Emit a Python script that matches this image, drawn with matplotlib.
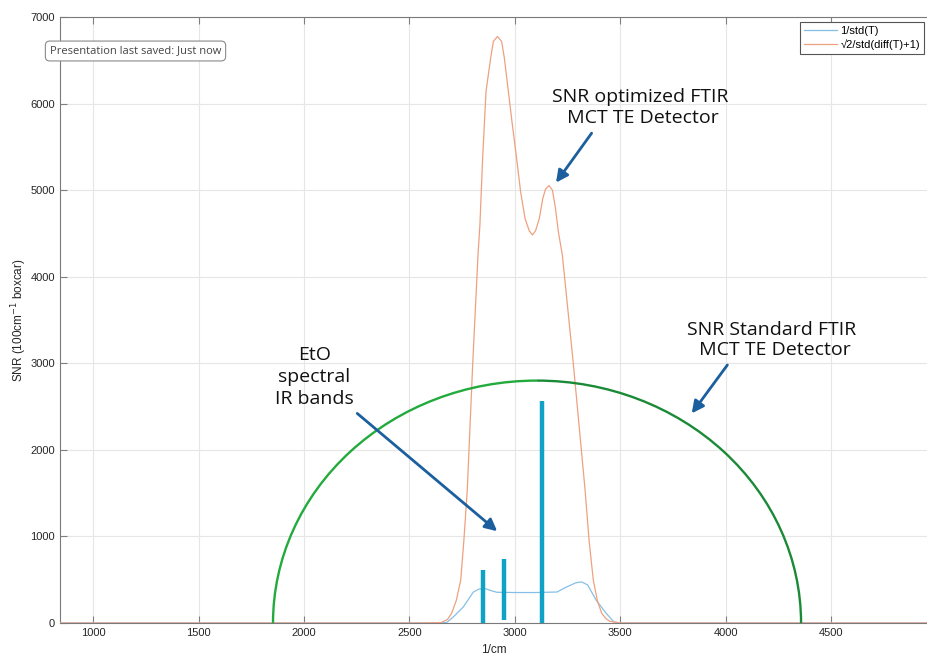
import matplotlib
matplotlib.use('Agg')
import matplotlib.pyplot as plt
from matplotlib.patches import Arc

# values
wn_opt = [842, 2550, 2650, 2680, 2700, 2722, 2743, 2758, 2774, 2800, 2825, 2834, 2847, 2863,
          2885, 2898, 2917, 2937, 2950, 2969, 2988, 3008, 3027, 3048, 3068, 3083, 3098, 3116,
          3132, 3145, 3162, 3178, 3192, 3206, 3225, 3277, 3333, 3352, 3372, 3392, 3412, 3432,
          3450, 3500, 4955]
snr_opt = [0, 0, 5, 40, 112, 260, 494, 956, 1534, 3000, 4252, 4598, 5369, 6140,
           6526, 6718, 6775, 6718, 6526, 6140, 5754, 5369, 4983, 4675, 4530, 4482, 4530, 4675,
           4900, 5010, 5053, 5000, 4800, 4521, 4252, 3000, 1534, 950, 494, 250, 112, 50,
           20, 0, 0]

wn_std = [842, 2600, 2676, 2708, 2755, 2803, 2830, 2858, 2890, 2914, 3000, 3100, 3200,
          3245, 3290, 3317, 3345, 3386, 3433, 3470, 3500, 4955]
snr_std = [0, 0, 5, 70, 185, 358, 392, 398, 372, 355, 352, 352, 358,
           416, 465, 474, 440, 262, 112, 12, 0, 0]

band_pos = [2847, 2948, 3127]
band_top = [617, 745, 2563]
band_bottom = [0, 30, 0]

# hand-drawn "standard FTIR" half ellipse
arc_center = 3105
arc_width = 2505
arc_height = 2800

legend_labels = ['1/std(T)', '\u221a2/std(diff(T)+1)']

fig = plt.figure(figsize=(9.27, 6.58), dpi=100, facecolor='w')
ax = fig.add_axes([60 / 927, 1 - 623 / 658, 867 / 927, 606 / 658])

ax.plot(wn_std, snr_std, c='#86bfe6', lw=0.9, label=legend_labels[0], zorder=3)
ax.plot(wn_opt, snr_opt, c='#efa17f', lw=0.9, label=legend_labels[1], zorder=3)

ax.vlines(band_pos, band_bottom, band_top, colors='#0fa2c6', lw=3.2, zorder=4)

ax.add_patch(Arc((arc_center, 0), arc_width, 2 * arc_height, theta1=90, theta2=180,
                 color='#22aa3d', lw=1.7, zorder=4))
ax.add_patch(Arc((arc_center, 0), arc_width, 2 * arc_height, theta1=0, theta2=90,
                 color='#1b8a37', lw=1.7, zorder=4))

ax.set_xlim(842, 4955)
ax.set_ylim(0, 7000)
ax.set_xticks(range(1000, 4501, 500))
ax.set_yticks(range(0, 7001, 1000))
ax.grid(True, color='#e6e6e6', lw=0.8)
ax.set_axisbelow(True)
ax.tick_params(direction='in', length=5, width=0.8, top=True, right=False,
               labelsize=8, colors='#7f7f7f', labelcolor='#262626')
for lab in ax.get_xticklabels() + ax.get_yticklabels():
    lab.set_family(['Liberation Sans', 'DejaVu Sans'])
for side in ['left', 'top', 'bottom']:
    ax.spines[side].set_color('#7a7a7a')
    ax.spines[side].set_linewidth(0.8)
ax.spines['right'].set_visible(False)

ax.set_ylabel('SNR (100cm$^{-1}$ boxcar)', fontsize=8.5, color='#262626',
              family=['Liberation Sans', 'DejaVu Sans'], va='center')
ax.yaxis.set_label_coords(-(60 - 19) / 867, 0.5)
ax.set_xlabel('1/cm', fontsize=8.5, color='#262626', family=['Liberation Sans', 'DejaVu Sans'])
ax.xaxis.set_label_coords(0.5, -(650 - 623) / 606)
ax.xaxis.label.set_va('center')

leg = ax.legend(loc='upper right', bbox_to_anchor=(0.9965, 0.9917),
                prop={'family': ['Liberation Sans', 'DejaVu Sans'], 'size': 8},
                fancybox=False, edgecolor='#555555', framealpha=1,
                handlelength=2.9, handletextpad=0.35, borderpad=0.35, labelspacing=0.3,
                borderaxespad=0)
leg.get_frame().set_linewidth(0.8)

# PowerPoint overlay annotations
note_font = ['Open Sans', 'DejaVu Sans']
arrow_props = dict(arrowstyle='-|>', color='#1c5f9e', lw=2, mutation_scale=18,
                   shrinkA=0, shrinkB=0)

ax.text(3593, 5951, 'SNR optimized FTIR\n MCT TE Detector', ha='center', va='center',
        fontsize=14, family=note_font, color='#111111', linespacing=1.2, zorder=6)
ax.annotate('', xy=(3195, 5087), xytext=(3364, 5658), arrowprops=arrow_props, zorder=6)

ax.text(4220, 3269, 'SNR Standard FTIR\n MCT TE Detector', ha='center', va='center',
        fontsize=14, family=note_font, color='#111111', linespacing=1.2, zorder=6)
ax.annotate('', xy=(3839, 2421), xytext=(4008, 2980), arrowprops=arrow_props, zorder=6)

ax.text(2048, 2841, 'EtO\nspectral\nIR bands', ha='center', va='center',
        fontsize=14, family=note_font, color='#111111', linespacing=1.27, zorder=6)
ax.annotate('', xy=(2916, 1060), xytext=(2252, 2421), arrowprops=arrow_props, zorder=6)

fig.text(135.5 / 927, 1 - 51 / 658, 'Presentation last saved: Just now', ha='center', va='center',
         fontsize=8, family=note_font, color='#444444',
         bbox=dict(boxstyle='round,pad=0.4,rounding_size=0.4', fc='white', ec='#8a8a8a', lw=0.8))

plt.savefig('out.png', dpi=100)
